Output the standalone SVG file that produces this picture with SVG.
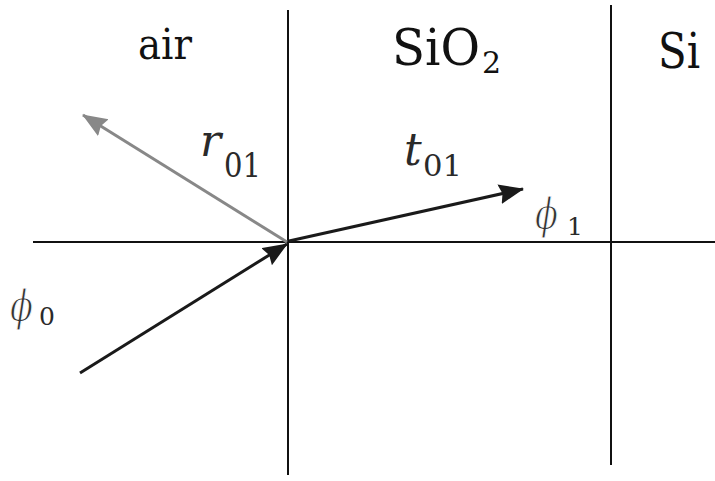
<svg xmlns="http://www.w3.org/2000/svg" width="715" height="481" viewBox="0 0 715 481">
  <style>
    .rule { stroke: #111; stroke-width: 2; fill: none; }
    .ray { stroke: #1a1a1a; stroke-width: 3; fill: none; }
    .ray-r { stroke: #888; stroke-width: 3; fill: none; }
    text { font-family: "DejaVu Serif", serif; }
    .medium { fill: #111; }
    .math { font-style: italic; fill: #2a2a2a; }
    .phi { font-style: italic; fill: #333; stroke: #fff; stroke-width: 1.1; }
    .sub { font-style: normal; fill: #2a2a2a; stroke: none; }
  </style>
  <defs>
    <marker id="headDark" markerUnits="userSpaceOnUse" markerWidth="28" markerHeight="22" refX="24" refY="10" orient="auto">
      <path d="M0,0 L25,10 L0,20 L3,10 z" fill="#1a1a1a"/>
    </marker>
    <marker id="headGray" markerUnits="userSpaceOnUse" markerWidth="28" markerHeight="22" refX="24" refY="10" orient="auto">
      <path d="M0,0 L25,10 L0,20 L3,10 z" fill="#888"/>
    </marker>
  </defs>
  <rect width="715" height="481" fill="#fff"/>

  <g id="boundaries">
    <line class="rule" x1="33" y1="242" x2="715" y2="242"/>
    <line class="rule" x1="288" y1="10" x2="288" y2="475"/>
    <line class="rule" x1="611" y1="5" x2="611" y2="465"/>
  </g>

  <g id="connectors">
    <line id="incident" class="ray" x1="80" y1="373" x2="287" y2="244" marker-end="url(#headDark)"/>
    <line id="reflected" class="ray-r" x1="287" y1="242" x2="83" y2="115" marker-end="url(#headGray)"/>
    <line id="transmitted" class="ray" x1="289" y1="241" x2="523" y2="189" marker-end="url(#headDark)"/>
  </g>

  <g id="label-air">
    <text class="medium" x="138" y="59" font-size="42" textLength="54" lengthAdjust="spacingAndGlyphs">air</text>
  </g>
  <g id="label-sio2">
    <text class="medium" x="392" y="65" font-size="50"><tspan textLength="88" lengthAdjust="spacingAndGlyphs">SiO</tspan><tspan x="482" y="73" font-size="30">2</tspan></text>
  </g>
  <g id="label-si">
    <text class="medium" x="658" y="68" font-size="48" textLength="42" lengthAdjust="spacingAndGlyphs">Si</text>
  </g>

  <g id="label-r01">
    <text class="math" x="200" y="156" font-size="44">r<tspan class="sub" x="224" y="177" font-size="33" textLength="37" lengthAdjust="spacingAndGlyphs">01</tspan></text>
  </g>
  <g id="label-t01">
    <text class="math" x="404" y="165" font-size="44">t<tspan class="sub" x="423" y="176" font-size="30" textLength="39" lengthAdjust="spacingAndGlyphs">01</tspan></text>
  </g>
  <g id="label-phi1">
    <text class="phi" x="535" y="229" font-size="42" textLength="23" lengthAdjust="spacingAndGlyphs">ϕ</text>
    <text class="sub" x="567" y="235" font-size="25">1</text>
  </g>
  <g id="label-phi0">
    <text class="phi" x="10" y="321" font-size="42" textLength="23" lengthAdjust="spacingAndGlyphs">ϕ</text>
    <text class="sub" x="39" y="325" font-size="25">0</text>
  </g>
</svg>
